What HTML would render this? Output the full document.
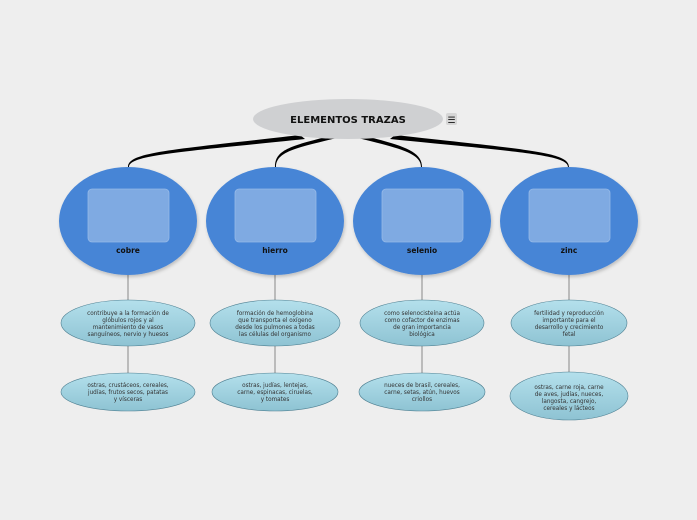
<!DOCTYPE html>
<html><head><meta charset="utf-8"><style>
body{margin:0;background:#eeeeee;}
svg{display:block;font-family:"Liberation Sans",sans-serif;}
.t{font-size:5.7px;fill:#333;text-anchor:middle;font-family:"DejaVu Sans",sans-serif;}
.b{font-size:7.5px;font-weight:bold;fill:#111;text-anchor:middle;font-family:"DejaVu Sans",sans-serif;}
</style></head><body>
<svg width="697" height="520" viewBox="0 0 697 520" xmlns="http://www.w3.org/2000/svg">
<defs>
<linearGradient id="g" x1="0" y1="0" x2="0" y2="1">
<stop offset="0" stop-color="#b4e0ec"/><stop offset="1" stop-color="#8ec3d3"/>
</linearGradient>
<filter id="s" x="-20%" y="-20%" width="140%" height="150%"><feDropShadow dx="1" dy="2" stdDeviation="1.5" flood-color="#000" flood-opacity="0.2"/></filter>
</defs>
<rect width="697" height="520" fill="#eeeeee"/>
<g stroke="#888" stroke-width="1">
<line x1="128" y1="272" x2="128" y2="375"/><line x1="275" y1="272" x2="275" y2="375"/>
<line x1="422" y1="272" x2="422" y2="375"/><line x1="569" y1="272" x2="569" y2="375"/>
</g>
<g fill="#000">
<path d="M128,167 C128,152 170,150 300,135 L305,139 C180,152 129,155 129,167 Z"/>
<path d="M275,167 C275,150 290,146 330,136 L337,138 C295,148 276,152 276,167 Z"/>
<path d="M422,167 C422,152 405,146 365,136 L358,138 C398,148 421,153 421,167 Z"/>
<path d="M569,167 C569,152 530,150 395,135 L390,139 C520,152 568,155 568,167 Z"/>
</g>
<ellipse cx="348" cy="119" rx="95" ry="20" fill="#cfd0d2"/>
<text x="348" y="123" style="font-size:10px;font-weight:bold;fill:#111;text-anchor:middle;font-family:'DejaVu Sans',sans-serif;">ELEMENTOS TRAZAS</text>
<rect x="446" y="113" width="11" height="12" rx="2" fill="#d6d6d6"/>
<text x="451.5" y="123" style="font-size:9px;text-anchor:middle;fill:#111;">☰</text>
<g filter="url(#s)">
<ellipse cx="128" cy="221" rx="69" ry="54" fill="#4785d6"/>
<ellipse cx="275" cy="221" rx="69" ry="54" fill="#4785d6"/>
<ellipse cx="422" cy="221" rx="69" ry="54" fill="#4785d6"/>
<ellipse cx="569" cy="221" rx="69" ry="54" fill="#4785d6"/>
</g>
<g fill="#7faae2" stroke="#95b9e8" stroke-width="0.8">
<rect x="88" y="189" width="81" height="53" rx="4"/>
<rect x="235" y="189" width="81" height="53" rx="4"/>
<rect x="382" y="189" width="81" height="53" rx="4"/>
<rect x="529" y="189" width="81" height="53" rx="4"/>
</g>
<text class="b" x="128" y="253">cobre</text>
<text class="b" x="275" y="253">hierro</text>
<text class="b" x="422" y="253">selenio</text>
<text class="b" x="569" y="253">zinc</text>
<g fill="url(#g)" stroke="#4d7f91" stroke-width="0.6">
<ellipse cx="128" cy="323" rx="67" ry="23"/>
<ellipse cx="275" cy="323" rx="65" ry="23"/>
<ellipse cx="422" cy="323" rx="62" ry="23"/>
<ellipse cx="569" cy="323" rx="58" ry="23"/>
<ellipse cx="128" cy="392" rx="67" ry="19"/>
<ellipse cx="275" cy="392" rx="63" ry="19"/>
<ellipse cx="422" cy="392" rx="63" ry="19"/>
<ellipse cx="569" cy="396" rx="59" ry="24"/>
</g>
<text class="t" x="128" y="315">contribuye a la formación de</text>
<text class="t" x="128" y="322">glóbulos rojos y al</text>
<text class="t" x="128" y="329">mantenimiento de vasos</text>
<text class="t" x="128" y="336">sanguíneos, nervio y huesos</text>
<text class="t" x="275" y="315">formación de hemoglobina</text>
<text class="t" x="275" y="322">que transporta el oxígeno</text>
<text class="t" x="275" y="329">desde los pulmones a todas</text>
<text class="t" x="275" y="336">las células del organismo</text>
<text class="t" x="422" y="315">como selenocisteína actúa</text>
<text class="t" x="422" y="322">como cofactor de enzimas</text>
<text class="t" x="422" y="329">de gran importancia</text>
<text class="t" x="422" y="336">biológica</text>
<text class="t" x="569" y="315">fertilidad y reproducción</text>
<text class="t" x="569" y="322">importante para el</text>
<text class="t" x="569" y="329">desarrollo y crecimiento</text>
<text class="t" x="569" y="336">fetal</text>
<text class="t" x="128" y="387">ostras, crustáceos, cereales,</text>
<text class="t" x="128" y="394">judías, frutos secos, patatas</text>
<text class="t" x="128" y="401">y vísceras</text>
<text class="t" x="275" y="387">ostras, judías, lentejas,</text>
<text class="t" x="275" y="394">carne, espinacas, ciruelas,</text>
<text class="t" x="275" y="401">y tomates</text>
<text class="t" x="422" y="387">nueces de brasil, cereales,</text>
<text class="t" x="422" y="394">carne, setas, atún, huevos</text>
<text class="t" x="422" y="401">criollos</text>
<text class="t" x="569" y="389">ostras, carne roja, carne</text>
<text class="t" x="569" y="396">de aves, judías, nueces,</text>
<text class="t" x="569" y="403">langosta, cangrejo,</text>
<text class="t" x="569" y="410">cereales y lácteos</text>
</svg>
</body></html>
